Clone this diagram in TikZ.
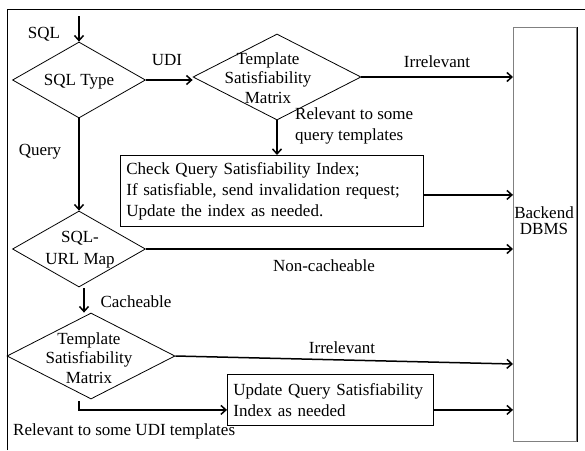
\documentclass[tikz,border=0pt]{standalone}
\usepackage{fontspec}
\setmainfont{Liberation Serif}
\usetikzlibrary{shapes.geometric,arrows.meta}
\begin{document}
\begin{tikzpicture}[x=1pt, y=-1pt, font=\fontsize{17}{21}\selectfont, line join=miter, >={Straight Barb[length=5pt,width=9pt]},
		dia/.style={diamond, draw, line width=0.8pt, inner sep=0pt},
		box/.style={draw, rectangle, line width=0.8pt, inner ysep=0pt, inner xsep=6pt, align=left, anchor=north west},
		lbl/.style={inner sep=0pt},
		flow/.style={->, line width=1.5pt}]
				\useasboundingbox (0,0) rectangle (585,450);
				% frame
				\draw[line width=0.8pt] (7,450) -- (7,9) -- (585,9);
				% decisions
				\node[dia, minimum width=133pt, minimum height=76pt] (sqltype) at (79,80) {};
				\node[lbl] (sqltypetxt) at (79,82) {SQL Type};
				\node[dia, minimum width=168pt, minimum height=86pt] (tsmA) at (277,77) {};
				\node[lbl, align=center, font=\fontsize{17}{19.5}\selectfont] (tsmAtxt) at (268,78) {Template\\Satisfiability\\Matrix};
				\node[dia, minimum width=133pt, minimum height=76pt] (urlmap) at (79,249) {};
				\node[lbl, align=center, font=\fontsize{17}{22}\selectfont] (urlmaptxt) at (80,250) {SQL-\\URL Map};
				\node[dia, minimum width=168pt, minimum height=86pt] (tsmB) at (91,356) {};
				\node[lbl, align=center, font=\fontsize{17}{19.5}\selectfont] (tsmBtxt) at (89,358) {Template\\Satisfiability\\Matrix};
				% boxes
				\node[box, text width=291pt, minimum height=71pt] (check) at (120,155) {Check Query Satisfiability Index;\\If satisfiable, send invalidation request;\\Update the index as needed.};
				\node[box, text width=194pt, minimum height=51pt] (upd) at (227,374) {Update Query Satisfiability\\Index as needed};
				\node[draw=gray, line width=1pt, minimum width=63pt, minimum height=414pt, anchor=north west, inner sep=0pt] (dbms) at (513,27) {};
				\draw[line width=1pt] (dbms.north east) -- (dbms.south east);
				\node[lbl, align=center, font=\fontsize{17}{16}\selectfont] (dbmstxt) at (544,221) {Backend\\DBMS};
				% labels
				\node[lbl] (sqllbl) at (44,34) {SQL};
				\node[lbl] (udilbl) at (167,60) {UDI};
				\node[lbl] (irrAlbl) at (437,62) {Irrelevant};
				\node[lbl, anchor=west, align=left] (relAlbl) at (295,126) {Relevant to some\\query templates};
				\node[lbl] (querylbl) at (40,152) {Query};
				\node[lbl] (noncachelbl) at (324,266) {Non-cacheable};
				\node[lbl] (cachelbl) at (136,302) {Cacheable};
				\node[lbl] (irrBlbl) at (342,348) {Irrelevant};
				\node[lbl, anchor=west] (relBlbl) at (13,431) {Relevant to some UDI templates};
				% connectors
				\coordinate (sqlin) at (79,16);
				\coordinate (checkout) at ([yshift=-4pt]check.east);
				\coordinate (cachein) at (84,288);
				\coordinate (irrBin) at (513,364);
				\coordinate (relBout) at (79,401);
				\coordinate (updin) at ([yshift=-10pt]upd.west);
				\coordinate (updout) at ([yshift=-10pt]upd.east);
				\draw[flow] (sqlin) -- (sqltype.north);
				\draw[flow] (sqltype.east) -- (sqltype.east -| tsmA.west);
				\draw[flow] (tsmA.east) -- (tsmA.east -| dbms.west);
				\draw[flow] (tsmA.south) -- (tsmA.south |- check.north);
				\draw[flow] (checkout) -- (checkout -| dbms.west);
				\draw[flow] (sqltype.south) -- (urlmap.north);
				\draw[flow] (urlmap.east) -- (urlmap.east -| dbms.west);
				\draw[flow] (cachein) -- (cachein |- tsmB.north);
				\draw[flow] (tsmB.east) -- (irrBin);
				\draw[flow] (relBout) |- (updin);
				\draw[flow] (updout) -- (updout -| dbms.west);
\end{tikzpicture}
\end{document}
